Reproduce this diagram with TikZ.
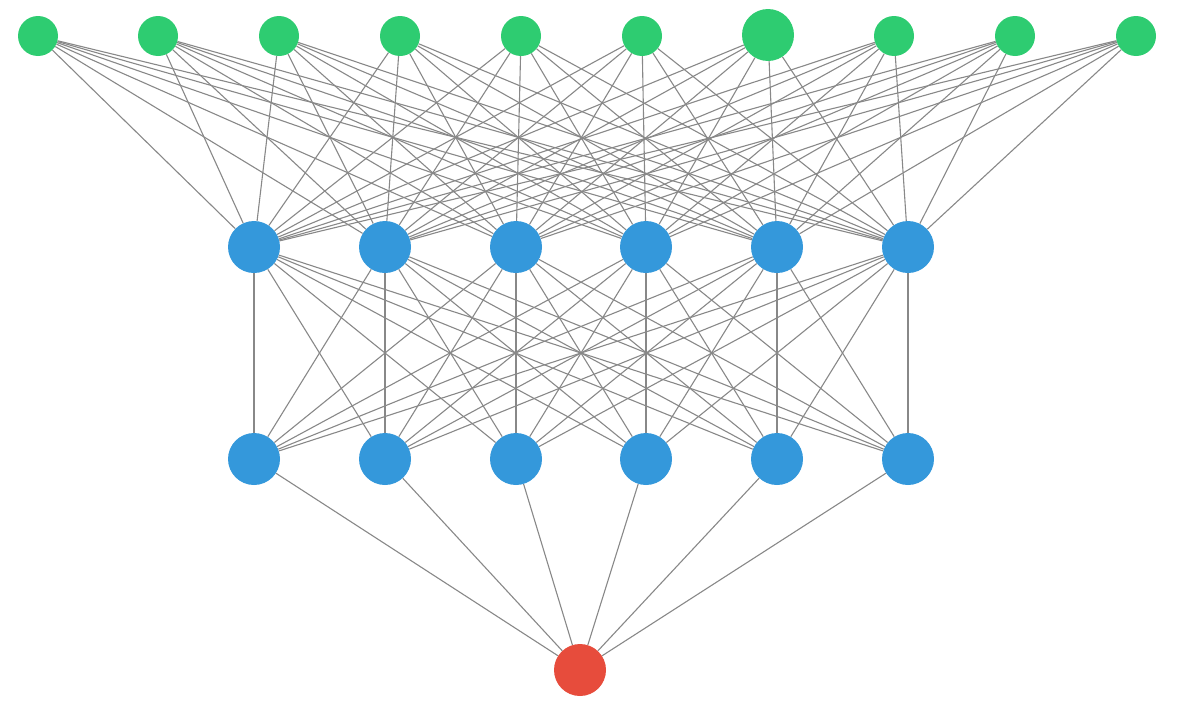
\documentclass[tikz,border=0pt]{standalone}
\usetikzlibrary{backgrounds}
\definecolor{ingreen}{HTML}{2ECC71}
\definecolor{hidblue}{HTML}{3498DB}
\definecolor{outred}{HTML}{E74C3C}
\definecolor{edgegray}{HTML}{888888}
\tikzset{
  inpt/.style={circle,fill=ingreen,draw=none,minimum size=40pt,inner sep=0pt},
  inbig/.style={inpt,minimum size=52pt},
  hid/.style={circle,fill=hidblue,draw=none,minimum size=52pt,inner sep=0pt},
  outp/.style={circle,fill=outred,draw=none,minimum size=52pt,inner sep=0pt},
  conn/.style={draw=edgegray,line width=1.1pt}
}
\begin{document}
\begin{tikzpicture}[x=1pt,y=-1pt]
\useasboundingbox (0,0) rectangle (1190,707);
% input layer
\foreach \i/\x in {1/38,2/158,3/279,4/400,5/521,6/642,8/894,9/1015,10/1136}
  \node[inpt] (i\i) at (\x,36) {};
\node[inbig] (i7) at (768,35) {};
% hidden layers
\foreach \j/\x in {1/254,2/385,3/516,4/646,5/777,6/908}{
  \node[hid] (a\j) at (\x,247) {};
  \node[hid] (b\j) at (\x,459) {};
}
% output
\node[outp] (o) at (580,670) {};
\begin{scope}[on background layer]
\foreach \i in {1,...,10}
  \foreach \j in {1,...,6}
    \draw[conn] (i\i) -- (a\j);
\foreach \j in {1,...,6}
  \foreach \k in {1,...,6}
    \draw[conn] (a\j) -- (b\k);
\foreach \k in {1,...,6}
  \draw[conn] (b\k) -- (o);
\end{scope}
\end{tikzpicture}
\end{document}
